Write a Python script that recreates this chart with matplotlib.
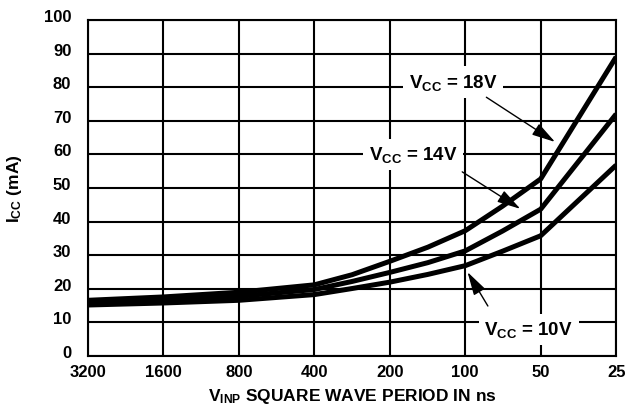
import numpy as np
import matplotlib.pyplot as plt
import matplotlib.transforms as mtransforms

plt.rcParams['font.family'] = ['Liberation Sans', 'DejaVu Sans']
plt.rcParams['font.weight'] = 'bold'
plt.rcParams['axes.labelweight'] = 'bold'
plt.rcParams['mathtext.fontset'] = 'custom'
plt.rcParams['mathtext.rm'] = 'Liberation Sans:bold'
plt.rcParams['mathtext.it'] = 'Liberation Sans:bold'
plt.rcParams['mathtext.bf'] = 'Liberation Sans:bold'
plt.rcParams['mathtext.default'] = 'rm'

# square wave period in ns (read at ticks and half-way between)
period = [3200, 1600, 800, 400, 283, 200, 141, 100, 71, 50, 25]
icc_18v = [16.6, 17.6, 19.0, 21.2, 24.2, 28.2, 32.4, 37.3, 44.6, 52.7, 89.0]
icc_14v = [15.9, 16.7, 17.8, 19.8, 22.2, 24.9, 27.8, 31.3, 37.2, 43.7, 72.0]
icc_10v = [15.2, 15.8, 16.6, 18.3, 20.1, 22.0, 24.3, 26.9, 31.2, 35.8, 56.8]

xticks = [3200, 1600, 800, 400, 200, 100, 50, 25]
yticks = list(range(0, 101, 10))

fig, ax = plt.subplots(figsize=(6.3, 4.1), dpi=100)
fig.subplots_adjust(left=0.1397, right=0.978, top=0.949, bottom=0.129)

ax.set_xscale('log', base=2)
ax.set_xlim(3200, 25)
ax.set_ylim(0, 100)
ax.set_xticks(xticks)
ax.set_xticklabels([str(t) for t in xticks])
ax.minorticks_off()
ax.set_yticks(yticks)
ax.grid(True, color='black', lw=1.5)
for s in ax.spines.values():
    s.set_linewidth(1.5)
ax.tick_params(length=0, labelsize=12, pad=6)
ax.tick_params(axis='y', pad=12)

# y labels sit a bit above their gridlines
off = mtransforms.ScaledTranslation(0, 5 / 100, fig.dpi_scale_trans)
for lab in ax.get_yticklabels():
    lab.set_transform(lab.get_transform() + off)

for ys in (icc_18v, icc_14v, icc_10v):
    ax.plot(period, ys, color='black', lw=3.6, solid_capstyle='butt',
            solid_joinstyle='round')

def idx(i):
    return 3200 / 2 ** i

box = dict(fc='white', ec='none', pad=4)
arr = dict(arrowstyle='-|>,head_length=0.9,head_width=0.25', color='black',
           lw=1, mutation_scale=16, shrinkA=0, shrinkB=0)
ax.text(idx(4.84), 81.5, '$V_{CC}$ = 18V', ha='center', va='center',
        fontsize=13.5, bbox=box)
ax.annotate('', xy=(idx(6.19), 63.7), xytext=(idx(5.28), 77), arrowprops=arr)
ax.text(idx(4.31), 60, '$V_{CC}$ = 14V', ha='center', va='center',
        fontsize=13.5, bbox=box)
ax.annotate('', xy=(idx(5.73), 43.8), xytext=(idx(4.96), 54.8), arrowprops=arr)
ax.text(idx(5.84), 8, '$V_{CC}$ = 10V', ha='center', va='center',
        fontsize=13.5, bbox=box)
ax.annotate('', xy=(idx(5.03), 25), xytext=(idx(5.3), 14.9), arrowprops=arr)

ax.set_xlabel('$V_{INP}$ SQUARE WAVE PERIOD IN ns', fontsize=12.5, labelpad=5)
ax.set_ylabel('$I_{CC}$ (mA)', fontsize=12.5, labelpad=14)

fig.savefig('out.png', dpi=100)
